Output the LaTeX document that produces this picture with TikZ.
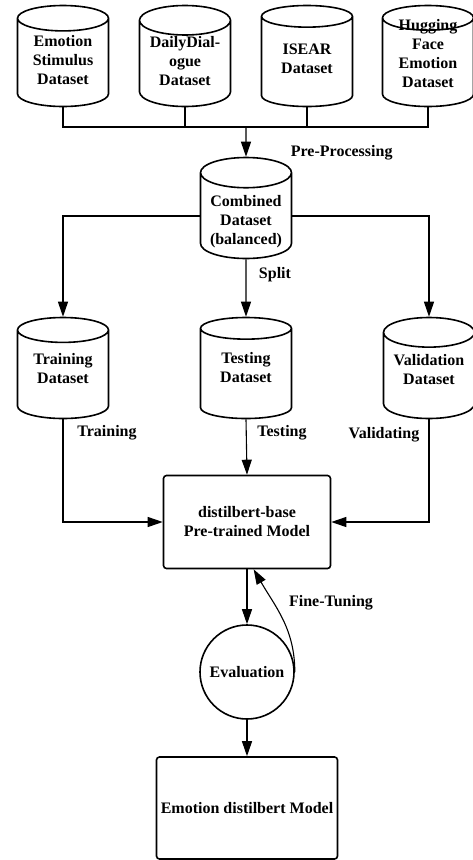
\documentclass[tikz,border=0pt]{standalone}
\usepackage{fontspec}
\setmainfont{Liberation Serif}
\usetikzlibrary{shapes.geometric,arrows.meta}
\newcommand\dbtext[2]{\raisebox{#1}[0pt][0pt]{\begin{tabular}{@{}c@{}}#2\end{tabular}}}
\tikzset{
  txt/.style={font=\fontsize{16}{19}\selectfont\bfseries},
  db/.style={txt, draw, line width=1.6pt, cylinder, shape border rotate=90,
    aspect=0.42, minimum width=91pt, minimum height=101pt, inner sep=0pt,
    align=center, anchor=shape center},
  box/.style={txt, draw, line width=1.6pt, rounded corners=3pt, align=center},
  arr/.style={-{Triangle[length=15pt,width=10pt]}}
}
\begin{document}
\begin{tikzpicture}[x=1pt,y=1pt,line width=1.1pt]
  \useasboundingbox (0,0) rectangle (473,-860);
  % source datasets
  \foreach \x/\s/\t [count=\i] in {63/-3pt/{Emotion\\Stimulus\\Dataset},
      185/-3pt/{DailyDial-\\ogue\\Dataset}, 307/-3pt/{ISEAR\\Dataset},
      428/3pt/{Hugging\\Face\\Emotion\\Dataset}} {
    \node[db] (src\i) at (\x,-56) {\dbtext{\s}{\t}};
  };
  \coordinate (bus) at (246,-127);
  \draw (src1.south) |- (bus) -| (src4.south);
  \foreach \i in {2,3} {
    \draw (src\i.south) -- (src\i.south |- bus);
  };
  % combined and split
  \node[db] (comb) at (246,-208) {\dbtext{-10pt}{Combined\\Dataset\\(balanced)}};
  \draw[arr] (bus) -- (comb.north);
  \node[txt, anchor=west] (pp) at (287,-153) {Pre-Processing};
  \node[db] (train) at (63,-368) {\dbtext{0.5pt}{Training\\Dataset}};
  \node[db] (test) at (246,-368) {\dbtext{0.5pt}{Testing\\Dataset}};
  \node[db] (val) at (429,-368) {\dbtext{0.5pt}{Validation\\Dataset}};
  \draw[arr] (comb.west) -| (train.north);
  \draw[arr] (comb.south) -- (test.north);
  \draw[arr] (comb.east) -| (val.north);
  \node[txt] (split) at (275,-275) {Split};
  % model
  \node[box, minimum width=167pt, minimum height=93pt] (pre) at (247,-522)
    {distilbert-base\\Pre-trained Model};
  \draw[arr] (train.south) |- (pre.west);
  \draw[arr] (test.south) -- (pre.north);
  \draw[arr] (val.south) |- (pre.east);
  \node[txt] (ltrain) at (107,-433) {Training};
  \node[txt] (ltest) at (282,-433) {Testing};
  \node[txt] (lval) at (384,-435) {Validating};
  % evaluation loop
  \node[txt, draw, circle, line width=1.6pt, minimum size=94pt, inner sep=0pt]
    (eval) at (247,-672) {Evaluation};
  \draw[arr] (pre.south) -- (eval.north);
  \draw[arr] (eval.east) to[out=90,in=-60] (pre.-82);
  \node[txt] (ft) at (331,-603) {Fine-Tuning};
  \node[box, minimum width=181pt, minimum height=102pt] (final) at (247,-808)
    {Emotion distilbert Model};
  \draw[arr] (eval.south) -- (final.north);
\end{tikzpicture}
\end{document}
